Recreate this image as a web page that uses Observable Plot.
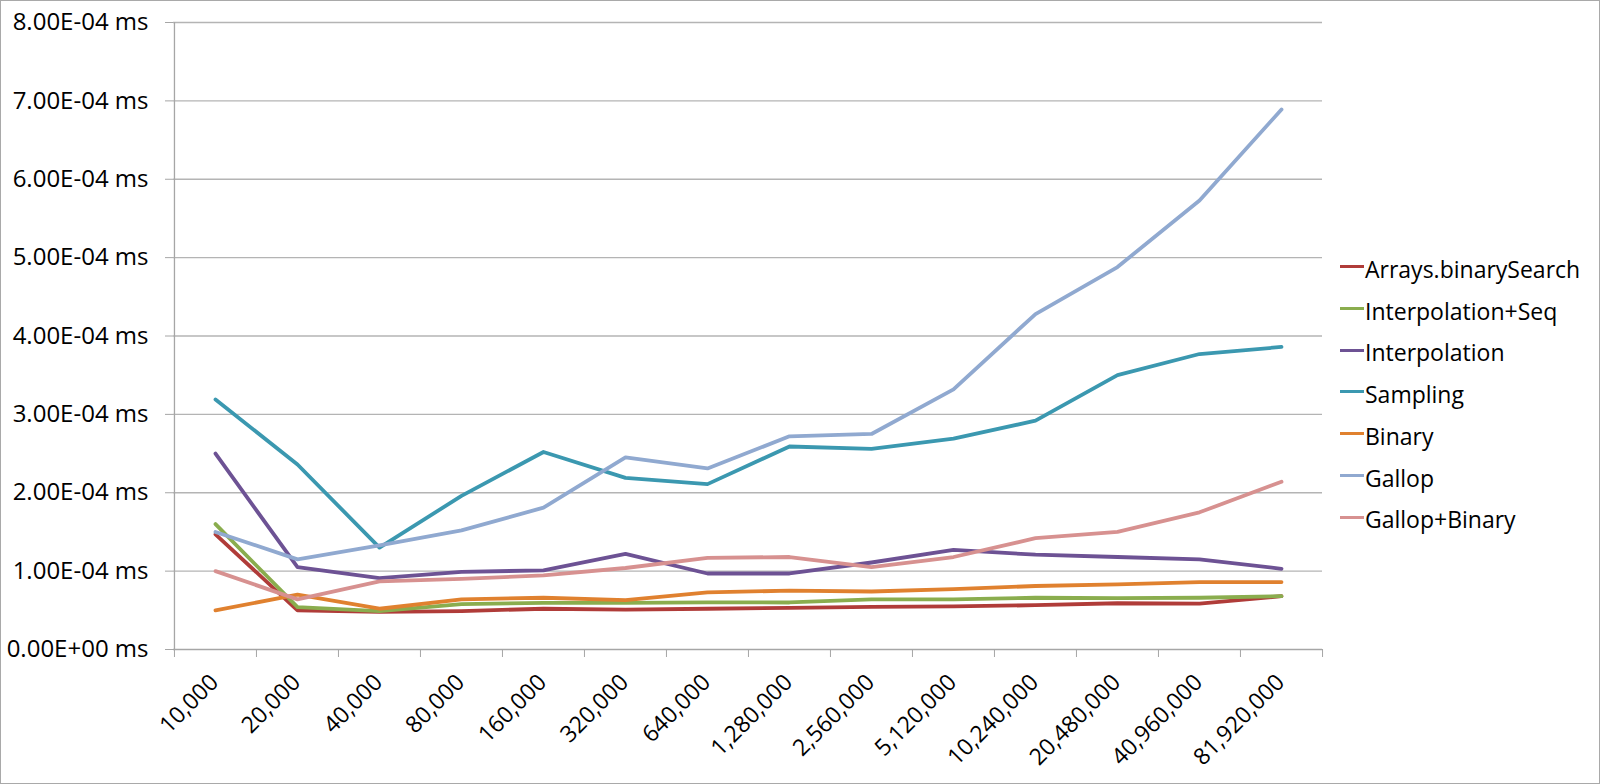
<!DOCTYPE html>
<html>
<head>
<meta charset="utf-8">
<script src="https://cdn.jsdelivr.net/npm/d3@7"></script>
<script src="https://cdn.jsdelivr.net/npm/@observablehq/plot@0.6"></script>
<style>
  html, body { margin: 0; padding: 0; background: #fff; }
  #frame { position: relative; width: 1600px; height: 784px; box-sizing: border-box; border: 1px solid #a9a9a9; overflow: hidden; font-family: "Open Sans", sans-serif; }
  #chart { position: absolute; left: 0; top: 0; }
  #legend { position: absolute; left: 1339px; top: 248px; font-size: 23px; line-height: 41.7px; color: #000; }
  #legend .item { display: flex; align-items: center; white-space: nowrap; }
  #legend .swatch { display: inline-block; width: 24px; height: 3px; margin-right: 1px; margin-top: -6px; }
</style>
</head>
<body>
<div id="frame">
  <div id="chart"></div>
  <div id="legend"></div>
</div>
<script>
const categories = ["10,000", "20,000", "40,000", "80,000", "160,000", "320,000", "640,000",
  "1,280,000", "2,560,000", "5,120,000", "10,240,000", "20,480,000", "40,960,000", "81,920,000"];

const seriesNames = ["Arrays.binarySearch", "Interpolation+Seq", "Interpolation", "Sampling", "Binary", "Gallop", "Gallop+Binary"];
const seriesColors = ["#b03c39", "#8aad4e", "#6d5294", "#3b98b0", "#e0812f", "#90a9d0", "#d79190"];

const arraysBinarySearch = [1.47e-4, 0.50e-4, 0.48e-4, 0.49e-4, 0.52e-4, 0.51e-4, 0.52e-4, 0.53e-4, 0.545e-4, 0.55e-4, 0.565e-4, 0.59e-4, 0.585e-4, 0.68e-4];
const interpolationSeq   = [1.60e-4, 0.54e-4, 0.49e-4, 0.58e-4, 0.595e-4, 0.595e-4, 0.60e-4, 0.60e-4, 0.64e-4, 0.64e-4, 0.66e-4, 0.655e-4, 0.66e-4, 0.68e-4];
const interpolation      = [2.50e-4, 1.05e-4, 0.91e-4, 0.99e-4, 1.01e-4, 1.22e-4, 0.97e-4, 0.97e-4, 1.11e-4, 1.27e-4, 1.21e-4, 1.18e-4, 1.15e-4, 1.03e-4];
const sampling           = [3.19e-4, 2.36e-4, 1.30e-4, 1.96e-4, 2.52e-4, 2.19e-4, 2.11e-4, 2.59e-4, 2.56e-4, 2.69e-4, 2.92e-4, 3.50e-4, 3.77e-4, 3.86e-4];
const binary             = [0.50e-4, 0.70e-4, 0.52e-4, 0.64e-4, 0.66e-4, 0.63e-4, 0.73e-4, 0.75e-4, 0.74e-4, 0.77e-4, 0.81e-4, 0.83e-4, 0.86e-4, 0.86e-4];
const gallop             = [1.50e-4, 1.15e-4, 1.33e-4, 1.52e-4, 1.81e-4, 2.45e-4, 2.31e-4, 2.72e-4, 2.75e-4, 3.32e-4, 4.28e-4, 4.88e-4, 5.73e-4, 6.89e-4];
const gallopBinary       = [1.00e-4, 0.64e-4, 0.87e-4, 0.90e-4, 0.945e-4, 1.04e-4, 1.17e-4, 1.18e-4, 1.05e-4, 1.18e-4, 1.42e-4, 1.50e-4, 1.75e-4, 2.14e-4];

const yTicks = [0, 1e-4, 2e-4, 3e-4, 4e-4, 5e-4, 6e-4, 7e-4, 8e-4];

const seriesValues = [arraysBinarySearch, interpolationSeq, interpolation, sampling, binary, gallop, gallopBinary];
const data = seriesNames.flatMap((name, i) =>
  seriesValues[i].map((v, j) => ({series: name, size: categories[j], time: v})));

function fmt(d) {
  const [m, e] = d.toExponential(2).split("e");
  const sign = e[0] === "-" ? "-" : "+";
  const exp = e.replace(/^[+-]/, "").padStart(2, "0");
  return `${m}E${sign}${exp} ms`;
}

const W = 1330, H = 782;
const mL = 172, mR = 9, mT = 21, mB = 134;
const half = (W - mL - mR) / categories.length / 2;
const axisColor = "#a6a6a6";

const chart = Plot.plot({
  width: W,
  height: H,
  marginLeft: mL,
  marginRight: mR,
  marginTop: mT,
  marginBottom: mB,
  style: {fontFamily: "Open Sans, sans-serif", fontSize: "23px", color: "#000", background: "transparent"},
  x: {type: "point", domain: categories, padding: 0.5, label: null},
  y: {domain: [0, 8e-4], label: null},
  color: {domain: seriesNames, range: seriesColors},
  marks: [
    Plot.gridY(yTicks.slice(1), {stroke: "#b4b4b4", strokeOpacity: 1, strokeWidth: 1.3}),
    Plot.ruleY([0], {stroke: axisColor, strokeWidth: 1.3}),
    Plot.ruleX([categories[0]], {dx: -half, stroke: axisColor, strokeWidth: 1.3}),
    Plot.axisY(yTicks, {tickFormat: fmt, tickSize: 8, tickPadding: 17, stroke: axisColor, fontSize: 24}),
    Plot.axisX({ticks: categories, tickSize: 8, tickFormat: () => "", dx: -half, stroke: axisColor}),
    Plot.axisX({ticks: [categories[categories.length - 1]], tickSize: 8, tickFormat: () => "", dx: half, stroke: axisColor}),
    Plot.axisX({ticks: categories, tickSize: 0, tickRotate: -45, tickPadding: 29, fontSize: 23, dx: -1}),
    Plot.line(data, {x: "size", y: "time", z: "series", stroke: "series", strokeWidth: 3.8, strokeLinejoin: "round", strokeLinecap: "round"})
  ]
});
document.getElementById("chart").appendChild(chart);

const legend = document.getElementById("legend");
seriesNames.forEach((name, i) => {
  const item = document.createElement("div");
  item.className = "item";
  const sw = document.createElement("span");
  sw.className = "swatch";
  sw.style.background = seriesColors[i];
  item.appendChild(sw);
  item.appendChild(document.createTextNode(name));
  legend.appendChild(item);
});
</script>
</body>
</html>
